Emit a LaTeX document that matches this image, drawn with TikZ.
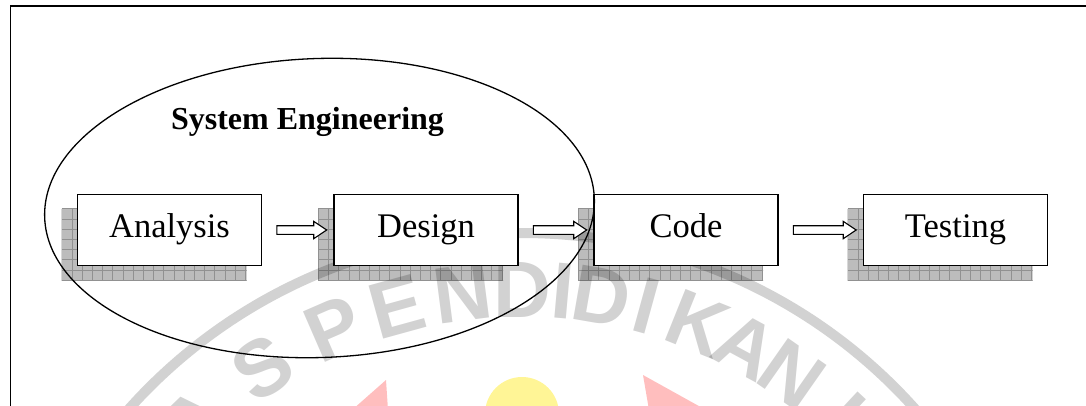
\documentclass[tikz,border=0pt]{standalone}
\usepackage{fontspec}
\setmainfont{Liberation Serif}
\newfontfamily\wmfont{Liberation Sans}
\usetikzlibrary{calc}

\definecolor{wmgray}{RGB}{210,210,210}
\definecolor{wmyellow}{RGB}{255,245,150}
\definecolor{wmred}{RGB}{255,190,190}
\definecolor{shadefill}{RGB}{188,188,188}
\definecolor{shadegrid}{RGB}{145,145,145}

\pgfdeclarelayer{shadow}
\pgfdeclarelayer{mark}
\pgfsetlayers{shadow,mark,main}

\tikzset{
  stepbox/.style={draw=black, line width=1.6pt, fill=white,
    minimum width=184pt, minimum height=71pt, inner sep=0pt,
    text height=23pt, text depth=8pt,
    font=\fontsize{34.5}{40}\selectfont},
  flowarrow/.style={draw=black, fill=white, line width=1.1pt, line join=miter},
  frameline/.style={draw=black, line width=1.8pt},
  groupline/.style={draw=black, line width=1.3pt},
  sealletter/.style={text=wmgray, inner sep=0pt, anchor=base,
    font=\wmfont\bfseries\fontsize{80}{90}\selectfont}
}

\begin{document}
\begin{tikzpicture}[x=1pt,y=1pt]
\useasboundingbox (0,0) rectangle (1086,-405);

% page frame (right and bottom edges lie beyond the page)
\draw[frameline] (10.5,-420) -- (10.5,-5.7) -- (1100,-5.7);

% process steps
\node[stepbox] (ana) at (169.5,-230) {Analysis};
\node[stepbox] (des) at (426,-230) {Design};
\node[stepbox] (cod) at (686,-230) {Code};
\node[stepbox] (tes) at (955.5,-230) {Testing};

% hatched drop shadows
\begin{pgfonlayer}{shadow}
  \foreach \n in {ana,des,cod,tes}{
    \begin{scope}[shift={($(\n.north west)+(-15,-15)$)}]
      \clip (0,0) rectangle (185,-72);
      \fill[shadefill] (0,0) rectangle (185,-72);
      \draw[shadegrid, line width=0.6pt] (0,0) grid[step=10.2] (186,-73);
    \end{scope}
  }
\end{pgfonlayer}

% faint university seal behind the diagram
\begin{pgfonlayer}{mark}
  \begin{scope}[blend mode=multiply]
    \coordinate (sealc) at (522,-760);
    \draw[wmgray, line width=10pt] (sealc) circle[radius=527];
    \foreach \l/\p [count=\i] in {A/-44, S/-33.5, P/-23.5, E/-15.4, N/-7.3,
        D/0, I/5, D/9.8, I/15.4, K/21.9, A/28.5, N/35, I/43}{
      \node[sealletter, rotate=-\p] (seal\i) at ($(sealc)+({90-\p}:443)$) {\l};
    }
    \fill[wmyellow] (522,-414) circle[radius=37];
    \fill[wmred] (386,-380) -- (352,-410) -- (388,-410) -- cycle;
    \fill[wmred] (643,-375) -- (706,-410) -- (649,-410) -- cycle;
  \end{scope}
\end{pgfonlayer}

% block arrows between the steps
\foreach \a/\b in {ana/des,des/cod,cod/tes}{
  \draw[flowarrow] let \p1=($(\a.east)+(14.5,0)$), \p2=($(\b.west)+(-6.5,0)$) in
    (\x1,\y1+4.3) -- (\x2-13,\y1+4.3) -- (\x2-13,\y1+8.7) -- (\x2,\y1)
    -- (\x2-13,\y1-8.7) -- (\x2-13,\y1-4.3) -- (\x1,\y1-4.3) -- cycle;
}

% system engineering grouping
\draw[groupline, rotate around={2:(319.5,-208)}]
  (319.5,-208) ellipse[x radius=275, y radius=149.5];
\node[font=\bfseries\fontsize{32}{38}\selectfont, anchor=base] (title)
  at (307.5,-129) {System Engineering};
\end{tikzpicture}
\end{document}
